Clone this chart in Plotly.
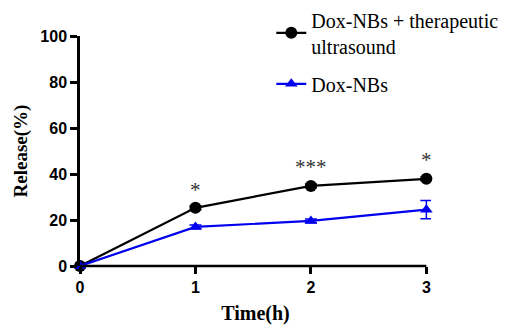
import plotly.graph_objects as go

time_h = [0, 1, 2, 3]
us_release = [0, 25.3, 34.8, 37.9]
us_err = [0, 0.8, 0.8, 0.8]
nb_release = [0, 17.0, 19.6, 24.5]
nb_err = [0, 0.8, 0.8, 4.0]
sig_labels = ["", "*", "***", "*"]
sig_y = [0, 33.2, 43.2, 46.1]
y_ticks = [0, 20, 40, 60, 80, 100]

fig = go.Figure()
fig.add_trace(go.Scatter(
    x=time_h, y=us_release, mode="lines+markers",
    name="Dox-NBs + therapeutic<br>ultrasound", legendgroup="us",
    line=dict(color="black", width=2.2),
    marker=dict(symbol="circle", size=12, color="black"),
    error_y=dict(type="data", array=us_err, color="black", thickness=1.5, width=6),
    cliponaxis=False,
))
fig.add_trace(go.Scatter(
    x=time_h, y=nb_release, mode="lines+markers",
    name="Dox-NBs", legendgroup="nb",
    line=dict(color="#0000ee", width=2.2),
    marker=dict(symbol="triangle-up", size=11, color="#0000ee"),
    error_y=dict(type="data", array=nb_err, color="#0000ee", thickness=1.5, width=6),
    cliponaxis=False,
))

for x, y, t in zip(time_h, sig_y, sig_labels):
    if t:
        fig.add_annotation(x=x, y=y, text=t, showarrow=False,
                           font=dict(family="Liberation Serif", size=21, color="#333333"))

tick_font = dict(family="Liberation Sans", size=16, color="black")
fig.update_xaxes(range=[0, 3.04], tickvals=time_h, ticktext=[f"<b>{v}</b>" for v in time_h],
                 showline=False, ticks="outside", ticklen=7, tickwidth=2.5, tickcolor="black",
                 showgrid=False, zeroline=False, tickfont=tick_font,
                 title=dict(text="<b>Time(h)</b>", standoff=10,
                            font=dict(family="Liberation Serif", size=20, color="black")))
fig.update_yaxes(range=[0, 100], tickvals=y_ticks, ticktext=[f"<b>{v}</b>" for v in y_ticks],
                 showline=True, linecolor="black", linewidth=2.5,
                 ticks="outside", ticklen=7, tickwidth=2.5, tickcolor="black",
                 showgrid=False, zeroline=False, tickfont=tick_font,
                 title=dict(text="<b>Release(%)</b>", standoff=8,
                            font=dict(family="Liberation Serif", size=19, color="black")))

# x axis baseline ending at the last tick
fig.add_shape(type="line", xref="x", yref="paper", x0=time_h[0], x1=time_h[-1], y0=0, y1=0,
              line=dict(color="black", width=2.5), layer="above")

fig.update_layout(
    width=505, height=324,
    margin=dict(l=72, r=82, t=28, b=66, autoexpand=False),
    paper_bgcolor="white", plot_bgcolor="white",
    showlegend=True,
    legend=dict(x=0.545, y=1.155, xanchor="left", yanchor="top",
                font=dict(family="Liberation Serif", size=20, color="black"),
                traceorder="grouped", tracegroupgap=9,
                bgcolor="rgba(0,0,0,0)", valign="middle"),
)
fig.write_html("out.html")
